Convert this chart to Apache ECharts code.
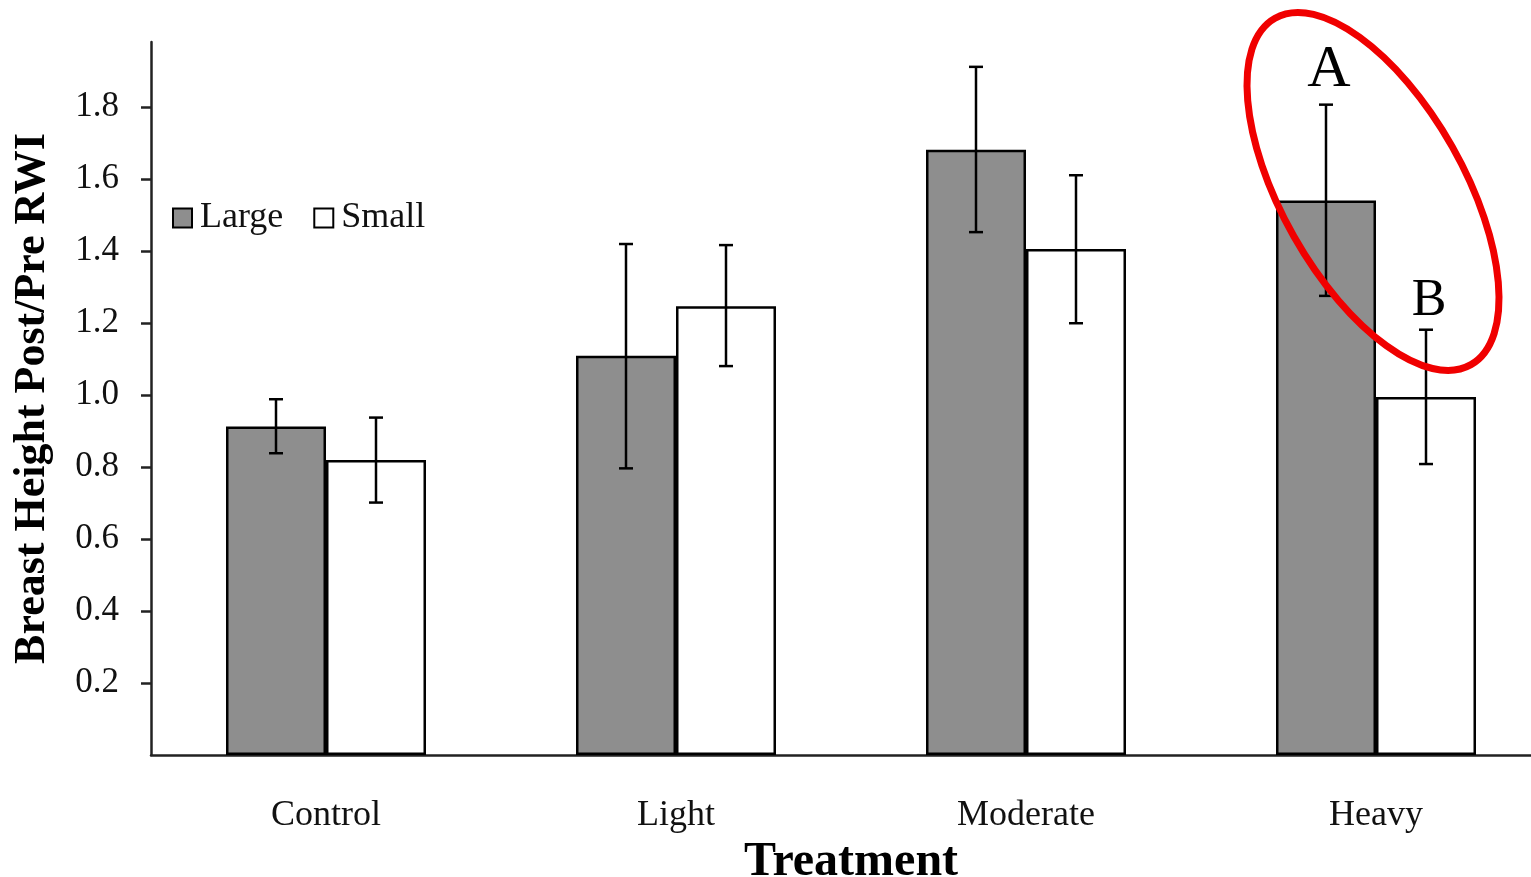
<!DOCTYPE html>
<html>
<head>
<meta charset="utf-8">
<script src="https://cdn.jsdelivr.net/npm/echarts@6/dist/echarts.min.js"></script>
<style>
html,body{margin:0;padding:0;background:#fff;}
#main{width:1531px;height:877px;}
</style>
</head>
<body>
<div id="main"></div>
<script>
// ---- data ----
const categories = ['Control', 'Light', 'Moderate', 'Heavy'];
const largeMeans = [0.912, 1.109, 1.681, 1.540];
const largeLow   = [0.838, 0.796, 1.452, 1.275];
const largeHigh  = [0.988, 1.419, 1.911, 1.806];
const smallMeans = [0.819, 1.246, 1.405, 0.994];
const smallLow   = [0.701, 1.080, 1.199, 0.808];
const smallHigh  = [0.937, 1.416, 1.610, 1.181];
const largeLetters = ['', '', '', 'A'];
const smallLetters = ['', '', '', 'B'];
const yTicks = [0.2, 0.4, 0.6, 0.8, 1.0, 1.2, 1.4, 1.6, 1.8];

const SERIF = "'Liberation Serif', 'Times New Roman', serif";
const chart = echarts.init(document.getElementById('main'), null, {renderer: 'canvas'});

function errData(low, high, letters) {
  return categories.map((c, i) => [i, low[i], high[i], letters[i]]);
}

function makeErr(side, letterSize, letterGap) {
  return function (params, api) {
    const idx = api.value(0);
    const lo = api.coord([idx, api.value(1)]);
    const hi = api.coord([idx, api.value(2)]);
    const band = api.size([1, 0])[0];
    const x = lo[0] + side * band / 7;
    const cap = 7;
    const st = {stroke: '#000', lineWidth: 2.5};
    const children = [
      {type: 'line', shape: {x1: x, y1: hi[1], x2: x, y2: lo[1]}, style: st},
      {type: 'line', shape: {x1: x - cap, y1: hi[1], x2: x + cap, y2: hi[1]}, style: st},
      {type: 'line', shape: {x1: x - cap, y1: lo[1], x2: x + cap, y2: lo[1]}, style: st}
    ];
    const letter = api.value(3);
    if (letter) {
      children.push({
        type: 'text',
        style: {
          text: String(letter), x: x + 3, y: hi[1] - letterGap,
          fill: '#000', font: letterSize + 'px ' + SERIF,
          align: 'center', verticalAlign: 'top'
        }
      });
    }
    return {type: 'group', children: children};
  };
}

const option = {
  backgroundColor: '#ffffff',
  animation: false,
  grid: {left: 151, top: 42, width: 1400, height: 713, containLabel: false, outerBoundsMode: 'none'},
  legend: {
    data: ['Large', 'Small'],
    icon: 'rect',
    left: 167, top: 195,
    itemWidth: 19, itemHeight: 19, itemGap: 30,
    textStyle: {fontFamily: SERIF, fontSize: 36, color: '#111', padding: [0, 0, 0, 3]}
  },
  xAxis: {
    type: 'category',
    data: categories,
    name: 'Treatment',
    nameLocation: 'middle',
    nameGap: 77,
    nameTextStyle: {fontFamily: SERIF, fontSize: 48, fontWeight: 'bold', color: '#000'},
    axisLine: {lineStyle: {color: '#222', width: 2.5}},
    axisTick: {show: false},
    axisLabel: {fontFamily: SERIF, fontSize: 36, color: '#111', margin: 43}
  },
  yAxis: {
    type: 'value',
    min: 0, max: 1.98, interval: 0.2,
    name: 'Breast Height Post/Pre RWI',
    nameLocation: 'middle',
    nameGap: 96,
    nameTextStyle: {fontFamily: SERIF, fontSize: 44, fontWeight: 'bold', color: '#000'},
    axisLine: {show: true, lineStyle: {color: '#222', width: 2.5}},
    axisTick: {show: true, length: 10, lineStyle: {color: '#222', width: 2.5}, customValues: yTicks},
    axisLabel: {
      fontFamily: SERIF, fontSize: 35, color: '#111', margin: 32,
      customValues: yTicks,
      formatter: v => Number(v).toFixed(1)
    },
    splitLine: {show: false}
  },
  series: [
    {
      name: 'Large', type: 'bar', data: largeMeans,
      barWidth: 100, barGap: '0%',
      itemStyle: {color: '#8e8e8e', borderColor: '#000', borderWidth: 2.5}
    },
    {
      name: 'Small', type: 'bar', data: smallMeans,
      barWidth: 100, barGap: '0%',
      itemStyle: {color: '#ffffff', borderColor: '#000', borderWidth: 2.5}
    },
    {
      name: 'errLarge', type: 'custom', z: 10,
      renderItem: makeErr(-1, 60, 64),
      encode: {x: 0, y: [1, 2]},
      data: errData(largeLow, largeHigh, largeLetters)
    },
    {
      name: 'errSmall', type: 'custom', z: 10,
      renderItem: makeErr(1, 52, 54),
      encode: {x: 0, y: [1, 2]},
      data: errData(smallLow, smallHigh, smallLetters)
    }
  ]
};
chart.setOption(option);

// red annotation ellipse, anchored at the Heavy category
const c = chart.convertToPixel({gridIndex: 0}, ['Heavy', 1.565]);
chart.setOption({
  graphic: [{
    type: 'ellipse',
    x: c[0] - 3, y: c[1],
    rotation: -1.056,
    shape: {cx: 0, cy: 0, rx: 199, ry: 91},
    style: {fill: 'none', stroke: '#f00000', lineWidth: 7},
    z: 100
  }]
});
</script>
</body>
</html>
